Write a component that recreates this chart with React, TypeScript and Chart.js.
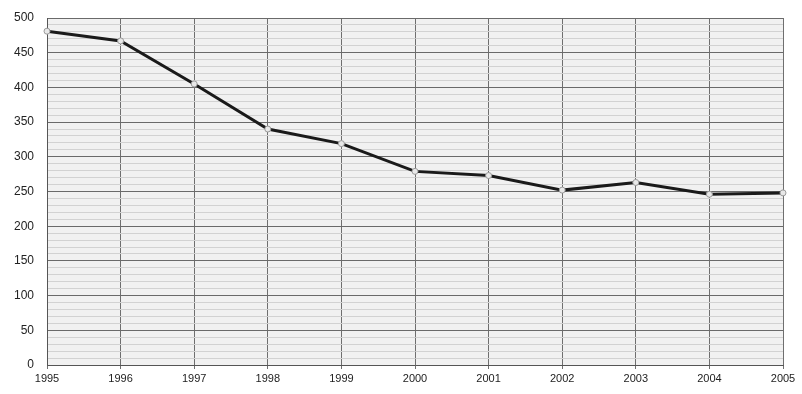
import React, { useEffect, useRef } from "react";
import { Chart, registerables } from "chart.js";

Chart.register(...registerables);

const years = ["1995", "1996", "1997", "1998", "1999", "2000", "2001", "2002", "2003", "2004", "2005"];
const values = [481, 467, 405, 340, 319, 279, 273, 252, 263, 246, 248];

export default function App() {
  const ref = useRef<HTMLCanvasElement | null>(null);

  useEffect(() => {
    if (!ref.current) return;
    const bgPlugin = {
      id: "bg",
      beforeDraw(chart: any) {
        const { ctx, chartArea } = chart;
        ctx.save();
        ctx.fillStyle = "#f1f1f1";
        ctx.fillRect(chartArea.left, chartArea.top, chartArea.right - chartArea.left, chartArea.bottom - chartArea.top);
        ctx.restore();
      },
    };
    const chart = new Chart(ref.current, {
      type: "line",
      data: {
        labels: years,
        datasets: [
          {
            data: values,
            borderColor: "#1a1a1a",
            borderWidth: 3,
            pointRadius: 3,
            pointBackgroundColor: "#e8e8e8",
            pointBorderColor: "#9a9a9a",
            pointBorderWidth: 1,
            tension: 0,
          },
        ],
      },
      options: {
        animation: false,
        responsive: false,
        layout: { padding: { top: 18, right: 19, left: 0, bottom: 0 } },
        plugins: { legend: { display: false }, tooltip: { enabled: false } },
        scales: {
          x: {
            offset: false,
            grid: { color: "#6f6f6f", lineWidth: 1, drawTicks: true, tickLength: 4 },
            border: { color: "#555" },
            ticks: {
              color: "#222",
              font: { family: "Liberation Sans", size: 11 },
              maxRotation: 0,
              autoSkip: false,
              padding: 3,
            },
            afterFit(scale: any) {
              scale.height = 29;
            },
          },
          y: {
            min: 0,
            max: 500,
            grid: {
              color: (c: any) => (c.tick && c.tick.value % 50 === 0 ? "#6a6a6a" : "#d2d2d2"),
              lineWidth: 1,
              drawTicks: false,
            },
            border: { color: "#555" },
            ticks: {
              stepSize: 10,
              autoSkip: false,
              color: "#222",
              font: { family: "Liberation Sans", size: 12 },
              padding: 13,
              callback: (v: any) => (Number(v) % 50 === 0 ? String(v) : ""),
            },
            afterFit(scale: any) {
              scale.width = 47;
              scale.paddingTop = 0;
              scale.paddingBottom = 0;
            },
          },
        },
      },
      plugins: [bgPlugin],
    });
    return () => chart.destroy();
  }, []);

  return (
    <div style={{ position: "fixed", left: 0, top: 0, width: 802, height: 394, background: "#fff" }}>
      <canvas ref={ref} width={802} height={394} style={{ display: "block", width: 802, height: 394 }} />
    </div>
  );
}
